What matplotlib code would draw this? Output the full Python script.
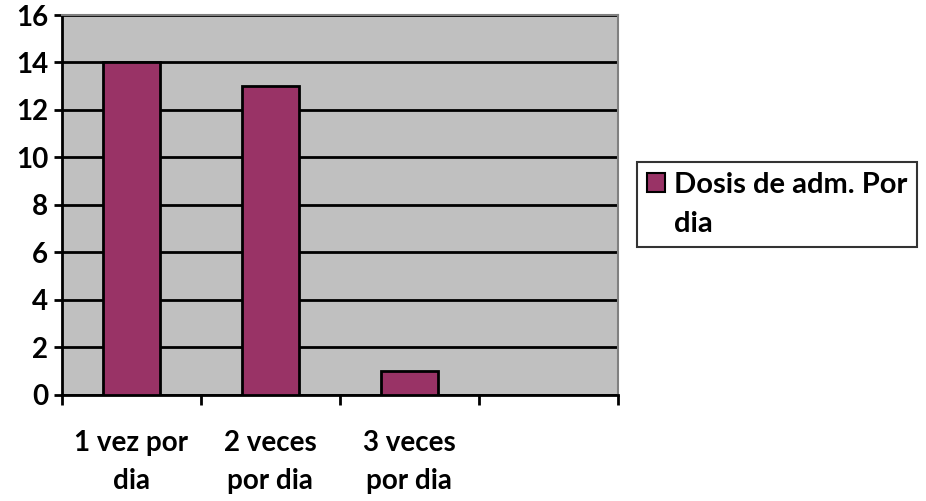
import numpy as np
from matplotlib import pyplot as plt
from matplotlib.patches import Patch

plt.rcParams['font.family'] = ['Lato', 'DejaVu Sans']
plt.rcParams['font.weight'] = 'bold'

# Data
categories = ['1 vez por\ndia', '2 veces\npor dia', '3 veces\npor dia', '']
values = [14, 13, 1, 0]
series_name = 'Dosis de adm. Por\ndia'

bar_color = '#993366'
fontsz = 20

fig = plt.figure(figsize=(9.26, 5.01), dpi=100)
ax = fig.add_axes([0.067, 0.212, 0.6, 0.758])
ax.set_facecolor('#C0C0C0')

x = np.arange(len(categories))
ax.set_axisbelow(True)
ax.yaxis.grid(True, color='black', linewidth=2)
ax.bar(x[:3], values[:3], width=0.41, color=bar_color, edgecolor='black', linewidth=2, zorder=3)

ax.set_xlim(-0.5, len(categories) - 0.5)
ax.set_ylim(0, 16)
ax.set_yticks(np.arange(0, 17, 2))
ax.tick_params(axis='y', direction='out', length=6, width=2, labelsize=fontsz, pad=4)

# labels at category centres, tick marks at boundaries
ax.set_xticks(x)
ax.set_xticklabels(categories, fontsize=fontsz, fontweight='bold', linespacing=1.6)
ax.tick_params(axis='x', which='major', length=0, pad=25)
ax.set_xticks(np.arange(-0.5, len(categories), 1), minor=True)
ax.tick_params(axis='x', which='minor', direction='out', length=7, width=2)

for side in ['top', 'right']:
    ax.spines[side].set_color('#808080')
    ax.spines[side].set_linewidth(1.5)
ax.spines['left'].set_linewidth(2)
ax.spines['bottom'].set_linewidth(2)

handle = Patch(facecolor=bar_color, edgecolor='black', linewidth=1.5)
leg = fig.legend([handle], [series_name], loc='upper left', bbox_to_anchor=(0.688, 0.677),
                 fontsize=21, frameon=True, fancybox=False, edgecolor='black',
                 handlelength=0.6, handleheight=0.6, handletextpad=0.3,
                 borderpad=0.35, borderaxespad=0, labelspacing=0.2)
leg.get_frame().set_linewidth(1.5)
for t in leg.get_texts():
    t.set_linespacing(1.6)
# Excel puts the swatch next to the first line of a wrapped label
swatch = leg.legend_handles[0]
swatch.set_y(swatch.get_y() + 16)

fig.savefig('out.png', dpi=100)
